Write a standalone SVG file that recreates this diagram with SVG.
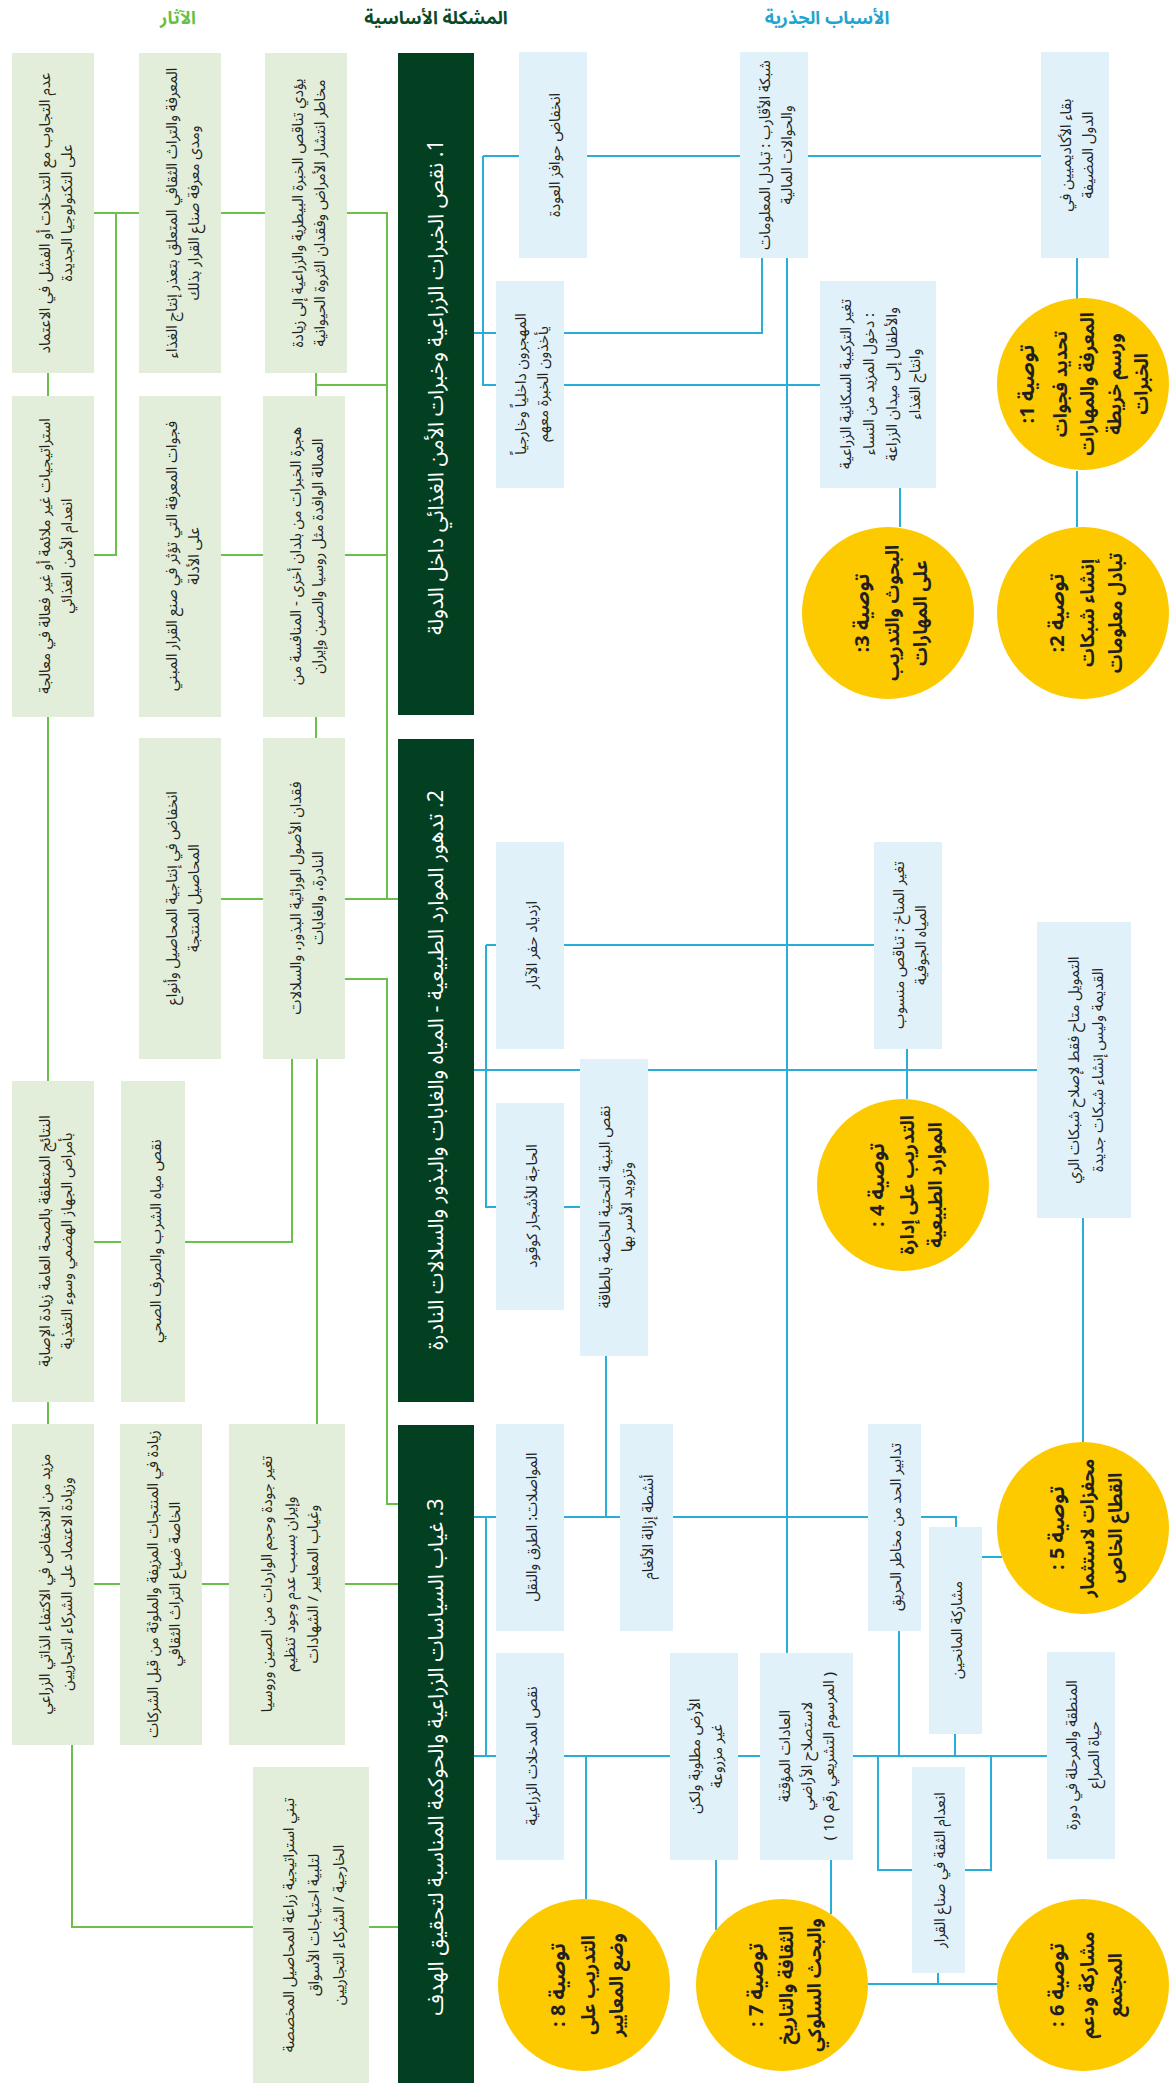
<svg xmlns="http://www.w3.org/2000/svg" width="1170" height="2086" viewBox="0 0 1170 2086">
<style>
.ef{fill:#e2eed9}
.ca{fill:#e1f1f9}
.bar{fill:#033f21}
.rec{fill:#fdca00}
.gl{stroke:#6cbf4b;stroke-width:2;fill:none}
.bl{stroke:#2aaed8;stroke-width:2;fill:none}
text{font-family:"Noto Sans Arabic","DejaVu Sans",sans-serif;text-anchor:middle;dominant-baseline:central;direction:rtl}
.t{font-size:15px;fill:#231f20}
.h{font-size:21.5px;fill:#ffffff}
.r{font-size:18.5px;fill:#231f20;font-weight:bold}
.rt{font-size:20px}
.hd{font-size:18px;font-weight:bold}
</style>
<rect width="1170" height="2086" fill="#ffffff"/>
<g id="headers">
<text class="hd" x="178" y="18" fill="#6abf45">الآثار</text>
<text class="hd" x="436" y="18" fill="#0a4a27">المشكلة الأساسية</text>
<text class="hd" x="827" y="18" fill="#1fa6cf">الأسباب الجذرية</text>
</g>
<g id="connectors">
<path class="gl" d="M94 213H139M221 213H265M347 213H387V899H398M116 213V555H94M48 373V396M316 373V396M316 385H387M221 555H263M345 555H387M316 717V738M221 899H263M345 899H387M345 979H387V1504H398M48 717V1081M317 1059V1424M292 1059V1242H185M94 1242H121M48 1402V1424M94 1584H120M202 1584H229M345 1584H398M72 1745V1927H253M369 1927H398"/>
<path class="bl" d="M483 156H519M587 156H740M808 156H1041M483 156V385H496M564 385H820M474 333H496M564 333H762V258M787 258V1653M900 488V527M1077 258V299M1077 471V527M486 945H496M564 945H874M486 945V1207H496M564 1207H580M474 1070H580M648 1070H1037M907 1049V1099M1083 1218V1442M606 1356V1517M474 1517H496M486 1517V1756M564 1517H620M673 1517H868M921 1517H956V1527M982 1557H1002M474 1756H496M564 1756H670M738 1756H760M853 1756H1047M586 1756V1899M716 1860V1930M831 1860V1914M899 1631V1756M955 1734V1756M878 1756V1870H912M991 1756V1870H965M938 1973V1984M868 1984H997"/>
</g>
<g id="bar1"><rect class="bar" x="398" y="53" width="76" height="662"/>
<text class="h" transform="translate(436 387) rotate(-90)">1. نقص الخبرات الزراعية وخبرات الأمن الغذائي داخل الدولة</text></g>
<g id="bar2"><rect class="bar" x="398" y="739" width="76" height="663"/>
<text class="h" transform="translate(436 1070) rotate(-90)">2. تدهور الموارد الطبيعية - المياه والغابات والبذور والسلالات النادرة</text></g>
<g id="bar3"><rect class="bar" x="398" y="1425" width="76" height="658"/>
<text class="h" transform="translate(436 1757) rotate(-90)">3. غياب السياسات الزراعية والحوكمة المناسبة لتحقيق الهدف</text></g>

<g id="e1"><rect class="ef" x="12" y="53" width="82" height="320"/>
<text class="t" transform="translate(56 213) rotate(-90)"><tspan x="0" y="-11">عدم التجاوب مع التدخلات أو الفشل في الاعتماد</tspan><tspan x="0" y="11">على التكنولوجيا الجديدة</tspan></text></g>
<g id="e2"><rect class="ef" x="139" y="53" width="82" height="320"/>
<text class="t" transform="translate(183 213) rotate(-90)"><tspan x="0" y="-11">المعرفة والتراث الثقافي المتعلق بتعذر إنتاج الغذاء</tspan><tspan x="0" y="11">ومدى معرفة صناع القرار بذلك</tspan></text></g>
<g id="e3"><rect class="ef" x="265" y="53" width="82" height="320"/>
<text class="t" transform="translate(309 213) rotate(-90)"><tspan x="0" y="-11">يؤدي تناقص الخبرة البيطرية والزراعية إلى زيادة</tspan><tspan x="0" y="11">مخاطر انتشار الأمراض وفقدان الثروة الحيوانية</tspan></text></g>
<g id="e4"><rect class="ef" x="12" y="396" width="82" height="321"/>
<text class="t" transform="translate(56 556) rotate(-90)"><tspan x="0" y="-11">استراتيجيات غير ملائمة أو غير فعالة في معالجة</tspan><tspan x="0" y="11">انعدام الأمن الغذائي</tspan></text></g>
<g id="e5"><rect class="ef" x="139" y="396" width="82" height="321"/>
<text class="t" transform="translate(183 556) rotate(-90)"><tspan x="0" y="-11">فجوات المعرفة التي تؤثر في صنع القرار المبني</tspan><tspan x="0" y="11">على الأدلة</tspan></text></g>
<g id="e6"><rect class="ef" x="263" y="396" width="82" height="321"/>
<text class="t" transform="translate(307 556) rotate(-90)"><tspan x="0" y="-11">هجرة الخبرات من بلدان أخرى - المنافسة من</tspan><tspan x="0" y="11">العمالة الوافدة مثل روسيا والصين وإيران</tspan></text></g>
<g id="e7"><rect class="ef" x="139" y="738" width="82" height="321"/>
<text class="t" transform="translate(183 898) rotate(-90)"><tspan x="0" y="-11">انخفاض في إنتاجية المحاصيل وأنواع</tspan><tspan x="0" y="11">المحاصيل المنتجة</tspan></text></g>
<g id="e8"><rect class="ef" x="263" y="738" width="82" height="321"/>
<text class="t" transform="translate(307 898) rotate(-90)"><tspan x="0" y="-11">فقدان الأصول الوراثية البذور، والسلالات</tspan><tspan x="0" y="11">النادرة، والغابات</tspan></text></g>
<g id="e9"><rect class="ef" x="12" y="1081" width="82" height="321"/>
<text class="t" transform="translate(56 1241) rotate(-90)"><tspan x="0" y="-11">النتائج المتعلقة بالصحة العامة زيادة الإصابة</tspan><tspan x="0" y="11">بأمراض الجهاز الهضمي وسوء التغذية</tspan></text></g>
<g id="e10"><rect class="ef" x="121" y="1081" width="64" height="321"/>
<text class="t" transform="translate(156 1241) rotate(-90)">نقص مياه الشرب والصرف الصحي</text></g>
<g id="e11"><rect class="ef" x="12" y="1424" width="82" height="321"/>
<text class="t" transform="translate(56 1584) rotate(-90)"><tspan x="0" y="-11">مزيد من الانخفاض في الاكتفاء الذاتي الزراعي</tspan><tspan x="0" y="11">وزيادة الاعتماد على الشركاء التجاريين</tspan></text></g>
<g id="e12"><rect class="ef" x="120" y="1424" width="82" height="321"/>
<text class="t" transform="translate(164 1584) rotate(-90)"><tspan x="0" y="-11">زيادة في المنتجات المزيفة والملوثة من قبل الشركات</tspan><tspan x="0" y="11">الخاصة ضياع التراث الثقافي</tspan></text></g>
<g id="e13"><rect class="ef" x="229" y="1424" width="116" height="321"/>
<text class="t" transform="translate(290 1584) rotate(-90)"><tspan x="0" y="-23">تغير جودة وحجم الواردات من الصين وروسيا</tspan><tspan x="0" y="0">وإيران بسبب عدم وجود تنظيم</tspan><tspan x="0" y="23">وغياب المعايير / الشهادات</tspan></text></g>
<g id="e14"><rect class="ef" x="253" y="1767" width="116" height="316"/>
<text class="t" transform="translate(314 1925) rotate(-90)"><tspan x="0" y="-25">تبني استراتيجية زراعة المحاصيل المخصصة</tspan><tspan x="0" y="0">لتلبية احتياجات الأسواق</tspan><tspan x="0" y="25">الخارجية / الشركاء التجاريين</tspan></text></g>

<g id="c1"><rect class="ca" x="519" y="52" width="68" height="206"/>
<text class="t" transform="translate(555 155) rotate(-90)">انخفاض حوافز العودة</text></g>
<g id="c2"><rect class="ca" x="740" y="52" width="68" height="206"/>
<text class="t" transform="translate(776 155) rotate(-90)"><tspan x="0" y="-11">شبكة الأقارب : تبادل المعلومات</tspan><tspan x="0" y="11">والحوالات المالية</tspan></text></g>
<g id="c3"><rect class="ca" x="1041" y="52" width="68" height="206"/>
<text class="t" transform="translate(1077 155) rotate(-90)"><tspan x="0" y="-11">بقاء الأكاديميين في</tspan><tspan x="0" y="11">الدول المضيفة</tspan></text></g>
<g id="c4"><rect class="ca" x="496" y="281" width="68" height="207"/>
<text class="t" transform="translate(532 384) rotate(-90)"><tspan x="0" y="-11">المهجرون داخلياً وخارجياً</tspan><tspan x="0" y="11">يأخذون الخبرة معهم</tspan></text></g>
<g id="c5"><rect class="ca" x="820" y="281" width="116" height="207"/>
<text class="t" transform="translate(880 384) rotate(-90)"><tspan x="0" y="-34">تغير التركيبة السكانية الزراعية</tspan><tspan x="0" y="-11">: دخول المزيد من النساء</tspan><tspan x="0" y="12">والأطفال إلى ميدان الزراعة</tspan><tspan x="0" y="35">وانتاج الغذاء</tspan></text></g>
<g id="c6"><rect class="ca" x="496" y="842" width="68" height="207"/>
<text class="t" transform="translate(532 945) rotate(-90)">ازدياد حفر الآبار</text></g>
<g id="c7"><rect class="ca" x="874" y="842" width="68" height="207"/>
<text class="t" transform="translate(910 945) rotate(-90)"><tspan x="0" y="-11">تغير المناخ : تناقص منسوب</tspan><tspan x="0" y="11">المياه الجوفية</tspan></text></g>
<g id="c8"><rect class="ca" x="1037" y="922" width="94" height="296"/>
<text class="t" transform="translate(1086 1070) rotate(-90)"><tspan x="0" y="-12">التمويل متاح فقط لإصلاح شبكات الري</tspan><tspan x="0" y="12">القديمة وليس إنشاء شبكات جديدة</tspan></text></g>
<g id="c9"><rect class="ca" x="496" y="1103" width="68" height="207"/>
<text class="t" transform="translate(532 1206) rotate(-90)">الحاجة للأشجار كوقود</text></g>
<g id="c10"><rect class="ca" x="580" y="1059" width="68" height="297"/>
<text class="t" transform="translate(616 1207) rotate(-90)"><tspan x="0" y="-11">نقص البنية التحتية الخاصة بالطاقة</tspan><tspan x="0" y="11">وتزويد الأسر بها</tspan></text></g>
<g id="c11"><rect class="ca" x="496" y="1424" width="68" height="207"/>
<text class="t" transform="translate(532 1527) rotate(-90)">المواصلات: الطرق والنقل</text></g>
<g id="c12"><rect class="ca" x="620" y="1424" width="53" height="207"/>
<text class="t" transform="translate(648 1527) rotate(-90)">أنشطة إزالة الألغام</text></g>
<g id="c13"><rect class="ca" x="868" y="1424" width="53" height="207"/>
<text class="t" transform="translate(896 1527) rotate(-90)">تدابير الحد من مخاطر الحريق</text></g>
<g id="c14"><rect class="ca" x="929" y="1527" width="53" height="207"/>
<text class="t" transform="translate(957 1630) rotate(-90)">مشاركة المانحين</text></g>
<g id="c15"><rect class="ca" x="496" y="1653" width="68" height="207"/>
<text class="t" transform="translate(532 1756) rotate(-90)">نقص المدخلات الزراعية</text></g>
<g id="c16"><rect class="ca" x="670" y="1653" width="68" height="207"/>
<text class="t" transform="translate(706 1756) rotate(-90)"><tspan x="0" y="-11">الأرض مطلوبة ولكن</tspan><tspan x="0" y="11">غير مزروعة</tspan></text></g>
<g id="c17"><rect class="ca" x="760" y="1653" width="93" height="207"/>
<text class="t" transform="translate(807 1756) rotate(-90)"><tspan x="0" y="-22">العادات المؤقتة</tspan><tspan x="0" y="0">لاستصلاح الأراضي</tspan><tspan x="0" y="22">( المرسوم التشريعي رقم 10 )</tspan></text></g>
<g id="c18"><rect class="ca" x="1047" y="1652" width="68" height="207"/>
<text class="t" transform="translate(1083 1755) rotate(-90)"><tspan x="0" y="-11">المنطقة والمرحلة في دورة</tspan><tspan x="0" y="11">حياة الصراع</tspan></text></g>
<g id="c19"><rect class="ca" x="912" y="1767" width="53" height="206"/>
<text class="t" transform="translate(940 1870) rotate(-90)">انعدام الثقة في صناع القرار</text></g>

<g id="r1"><circle class="rec" cx="1083" cy="384" r="86"/>
<text class="r" transform="translate(1086 384) rotate(-90)"><tspan class="rt" x="0" y="-58">توصية 1:</tspan><tspan x="0" y="-25">تحديد فجوات</tspan><tspan x="0" y="2">المعرفة والمهارات</tspan><tspan x="0" y="29">ورسم خريطة</tspan><tspan x="0" y="56">الخبرات</tspan></text></g>
<g id="r2"><circle class="rec" cx="1083" cy="613" r="86"/>
<text class="r" transform="translate(1088 613) rotate(-90)"><tspan class="rt" x="0" y="-30">توصية 2:</tspan><tspan x="0" y="0">إنشاء شبكات</tspan><tspan x="0" y="28">تبادل معلومات</tspan></text></g>
<g id="r3"><circle class="rec" cx="888" cy="613" r="86"/>
<text class="r" transform="translate(893 613) rotate(-90)"><tspan class="rt" x="0" y="-30">توصية 3:</tspan><tspan x="0" y="0">البحوث والتدريب</tspan><tspan x="0" y="28">على المهارات</tspan></text></g>
<g id="r4"><circle class="rec" cx="903" cy="1185" r="86"/>
<text class="r" transform="translate(908 1185) rotate(-90)"><tspan class="rt" x="0" y="-30">توصية 4 :</tspan><tspan x="0" y="0">التدريب على إدارة</tspan><tspan x="0" y="28">الموارد الطبيعية</tspan></text></g>
<g id="r5"><circle class="rec" cx="1083" cy="1528" r="86"/>
<text class="r" transform="translate(1088 1528) rotate(-90)"><tspan class="rt" x="0" y="-30">توصية 5 :</tspan><tspan x="0" y="0">محفزات لاستثمار</tspan><tspan x="0" y="28">القطاع الخاص</tspan></text></g>
<g id="r6"><circle class="rec" cx="1083" cy="1985" r="86"/>
<text class="r" transform="translate(1088 1985) rotate(-90)"><tspan class="rt" x="0" y="-30">توصية 6 :</tspan><tspan x="0" y="0">مشاركة ودعم</tspan><tspan x="0" y="28">المجتمع</tspan></text></g>
<g id="r7"><circle class="rec" cx="782" cy="1985" r="86"/>
<text class="r" transform="translate(787 1985) rotate(-90)"><tspan class="rt" x="0" y="-30">توصية 7 :</tspan><tspan x="0" y="0">الثقافة والتاريخ</tspan><tspan x="0" y="28">والبحث السلوكي</tspan></text></g>
<g id="r8"><circle class="rec" cx="584" cy="1985" r="86"/>
<text class="r" transform="translate(589 1985) rotate(-90)"><tspan class="rt" x="0" y="-30">توصية 8 :</tspan><tspan x="0" y="0">التدريب على</tspan><tspan x="0" y="28">وضع المعايير</tspan></text></g>
</svg>
